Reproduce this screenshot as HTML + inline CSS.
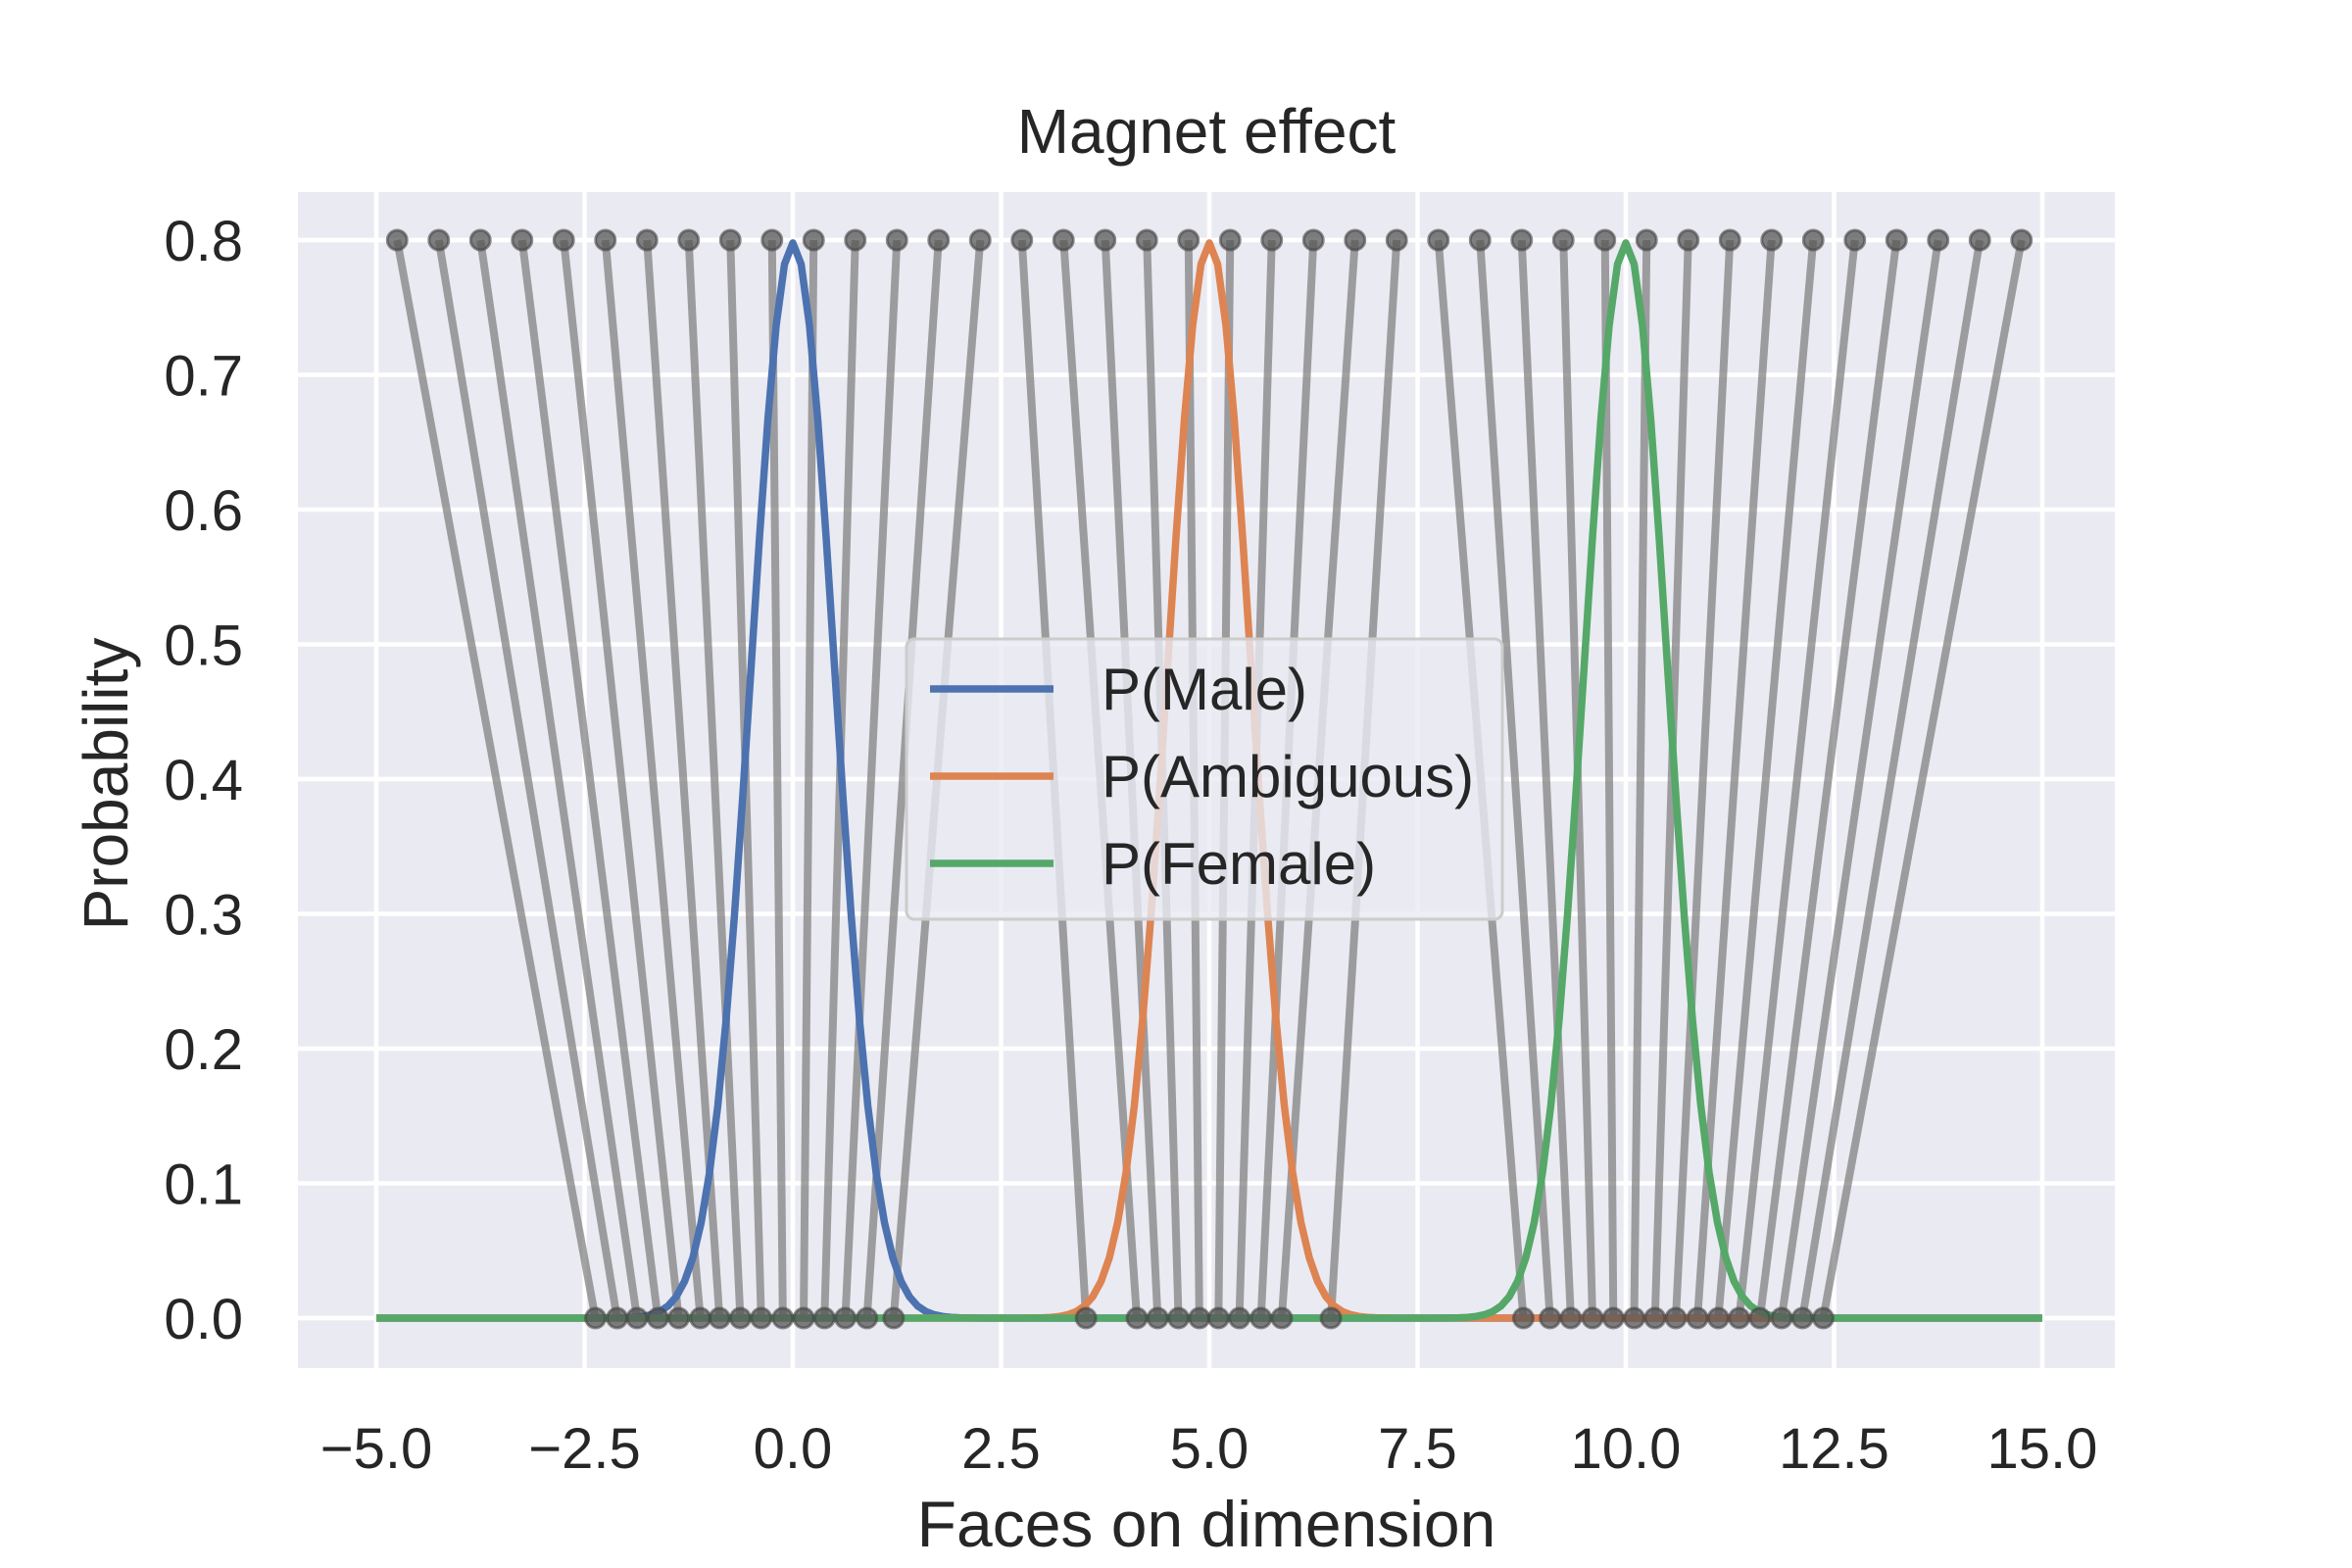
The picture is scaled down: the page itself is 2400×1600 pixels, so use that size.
<!DOCTYPE html>
<html><head><meta charset="utf-8"><style>
html,body{margin:0;padding:0;background:#fff;}
svg{display:block;font-family:"Liberation Sans",sans-serif;}
</style></head><body>
<svg id="chart" width="2400" height="1600" viewBox="0 0 2400 1600" xmlns="http://www.w3.org/2000/svg">
<rect x="304" y="196" width="1854" height="1200" fill="#eaeaf2"/>
<g id="grid"></g>
<g id="ticks"></g>
<g id="magnet-lines"></g>
<g id="curves"></g>
<g id="dots"></g>
<text x="1231" y="156" font-size="64" text-anchor="middle" fill="#262626">Magnet effect</text>
<text x="1231" y="1578" font-size="66" text-anchor="middle" fill="#262626">Faces on dimension</text>
<text x="0" y="0" font-size="64" text-anchor="middle" fill="#262626" transform="translate(130,800) rotate(-90)">Probability</text>
<g id="legend"></g>
</svg>
<script>
const xTicks = [-5, -2.5, 0, 2.5, 5, 7.5, 10, 12.5, 15];
const yTicks = [0, 0.1, 0.2, 0.3, 0.4, 0.5, 0.6, 0.7, 0.8];
const topX = [-4.75,-4.25,-3.75,-3.25,-2.75,-2.25,-1.75,-1.25,-0.75,-0.25,0.25,0.75,1.25,1.75,2.25,2.75,3.25,3.75,4.25,4.75,5.25,5.75,6.25,6.75,7.25,7.75,8.25,8.75,9.25,9.75,10.25,10.75,11.25,11.75,12.25,12.75,13.25,13.75,14.25,14.75];
const bottomX = [-2.37,-2.11,-1.87,-1.62,-1.37,-1.11,-0.88,-0.63,-0.38,-0.12,0.13,0.38,0.63,0.89,1.21,3.52,4.13,4.38,4.63,4.88,5.11,5.36,5.62,5.87,6.46,8.77,9.09,9.34,9.60,9.85,10.1,10.35,10.6,10.86,11.11,11.36,11.61,11.87,12.12,12.37];
const topY = 0.8;
const bottomY = 0;
const categoryMeans = [0, 5, 10];
const categorySigma = 0.5;
const seriesNames = ["P(Male)", "P(Ambiguous)", "P(Female)"];
const seriesColors = ["#4c72b0", "#dd8452", "#55a868"];

const NS = "http://www.w3.org/2000/svg";
const X = v => 809 + (v - 0) * 85;
const Y = v => 1345 - v * 1375;
function mk(tag, attrs, parent){const e=document.createElementNS(NS,tag);for(const k in attrs)e.setAttribute(k,attrs[k]);parent.appendChild(e);return e;}
const grid=document.getElementById('grid'), ticks=document.getElementById('ticks');
xTicks.forEach(t=>{
  const l=mk('line',{x1:X(t),x2:X(t),y1:196,y2:1396,stroke:'#fff','stroke-width':4.5},grid);
  
  
  const tx=mk('text',{x:X(t),y:1498,'font-size':58,'text-anchor':'middle',fill:'#262626'},ticks);
  tx.textContent=(t<0?'\u2212':'')+Math.abs(t).toFixed(1);
  
  
});
yTicks.forEach(t=>{
  const l=mk('line',{x1:304,x2:2158,y1:Y(t),y2:Y(t),stroke:'#fff','stroke-width':4.5},grid);
  
  
  const tx=mk('text',{x:248,y:Y(t)+21,'font-size':58,'text-anchor':'end',fill:'#262626'},ticks);
  tx.textContent=t.toFixed(1);
  
  
});
const ml=document.getElementById('magnet-lines'), dots=document.getElementById('dots');
topX.forEach((tx,i)=>{
  const l=mk('line',{x1:X(tx),y1:Y(topY),x2:X(bottomX[i]),y2:Y(bottomY),stroke:'#7a7a7a','stroke-opacity':0.7,'stroke-width':8},ml);
  
  
});
const curves=document.getElementById('curves');
categoryMeans.forEach((m,s)=>{
  let d='';
  for(let i=0;i<=200;i++){const x=-5+i*0.1;const y=Math.exp(-0.5*((x-m)/categorySigma)**2)/(categorySigma*Math.sqrt(2*Math.PI));d+=(i?'L':'M')+X(x).toFixed(1)+' '+Y(y).toFixed(1);}
  const p=mk('path',{d:d,fill:'none',stroke:seriesColors[s],'stroke-width':7.5,'stroke-linejoin':'round'},curves);
  
  
});
topX.forEach((tx,i)=>{
  [[tx,topY],[bottomX[i],bottomY]].forEach(([x,y])=>{
    const c=mk('circle',{cx:X(x),cy:Y(y),r:10,fill:'#555','fill-opacity':0.75,stroke:'#444','stroke-opacity':0.6,'stroke-width':3},dots);
    
    
  });
});
const lg=document.getElementById('legend');
const box=mk('rect',{x:925,y:652,width:608,height:286,rx:8,fill:'#eaeaf2','fill-opacity':0.8,stroke:'#cccccc','stroke-width':3},lg);


seriesNames.forEach((n,i)=>{
  const y=703+i*89;
  const l=mk('line',{x1:949,x2:1075,y1:y,y2:y,stroke:seriesColors[i],'stroke-width':7.5},lg);
  
  
  const t=mk('text',{x:1124,y:y+21,'font-size':60,fill:'#262626'},lg);
  t.textContent=n;
  
  
});
</script>
</body></html>
